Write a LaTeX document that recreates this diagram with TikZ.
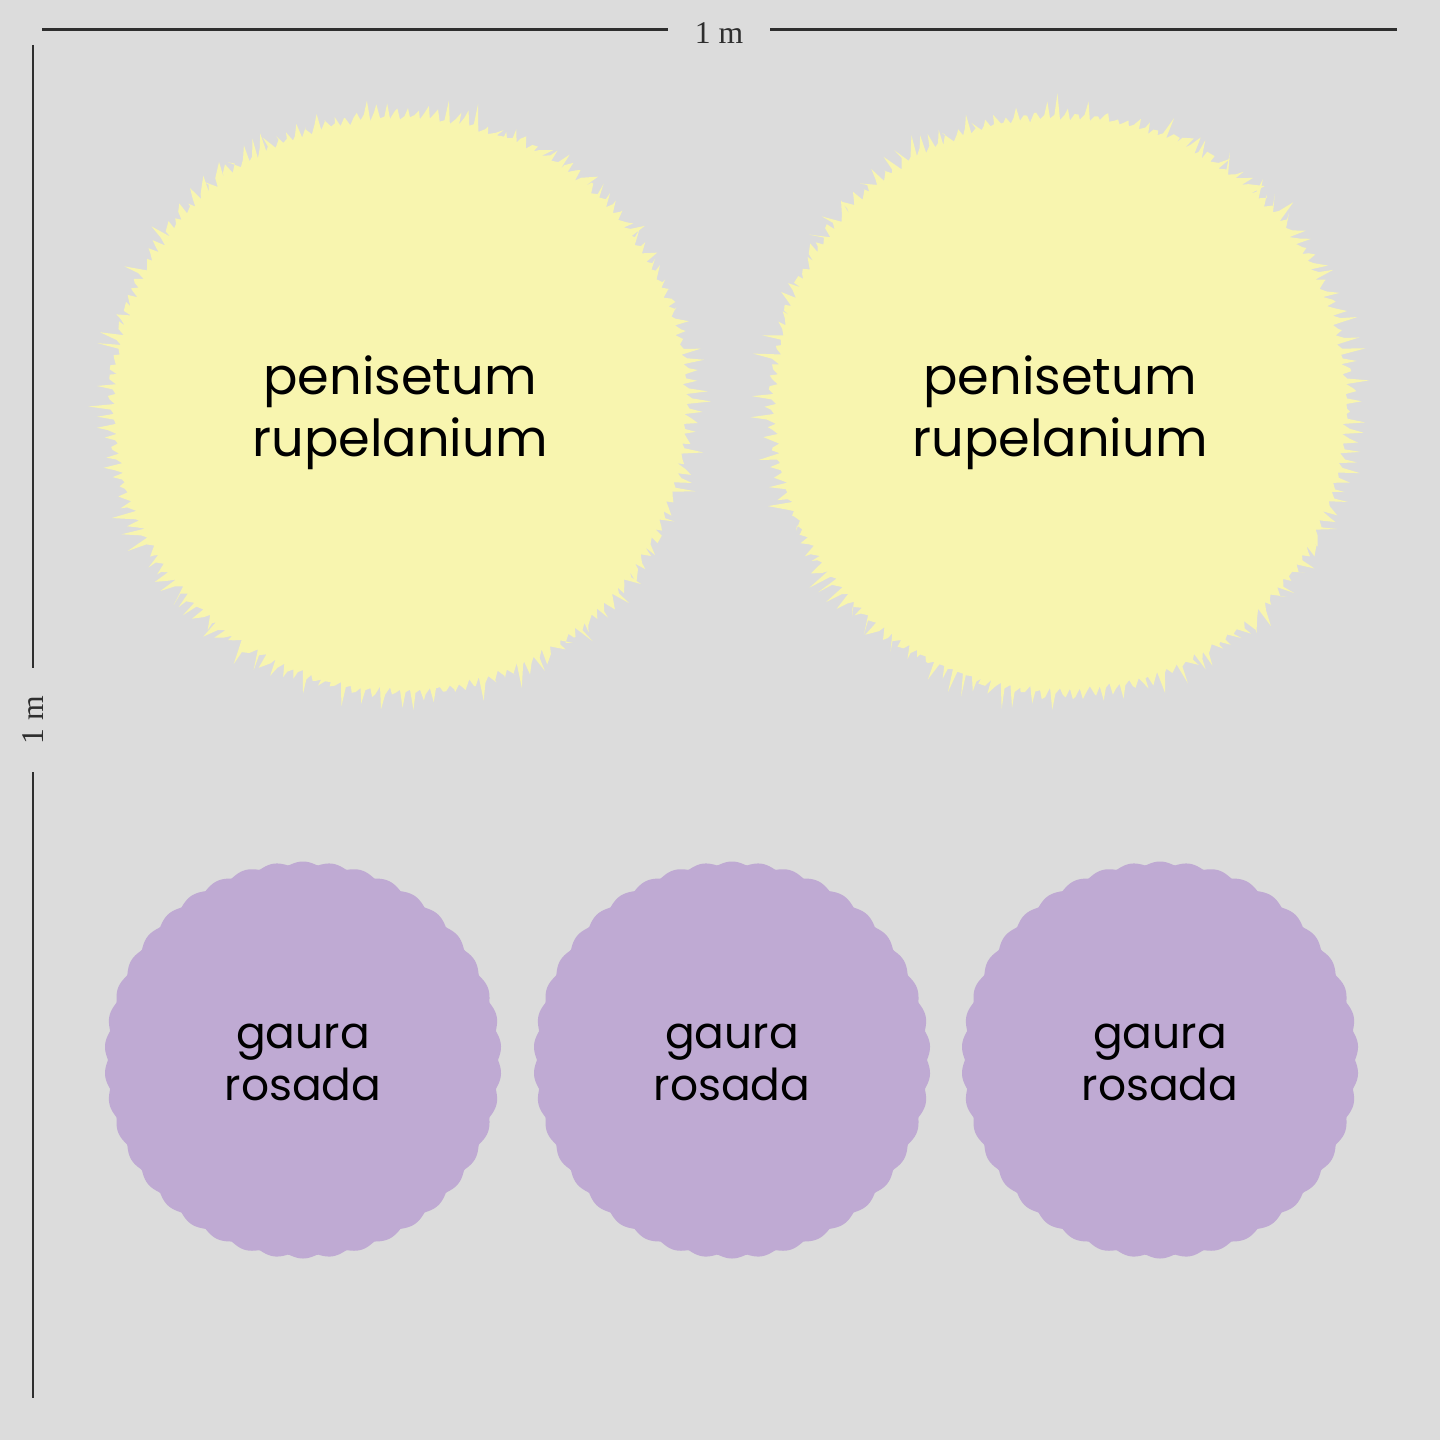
\documentclass[tikz,border=0pt]{standalone}
\usepackage{fontspec}
\setmainfont{Poppins}
\newfontfamily\dimfont{Liberation Serif}
\usetikzlibrary{positioning}
\definecolor{ground}{HTML}{DCDCDC}
\definecolor{grass}{HTML}{F8F5AF}
\definecolor{gaura}{HTML}{BFAAD3}
\definecolor{rule}{HTML}{2E2E2E}

\tikzset{
  dimline/.style={draw=rule, line width=0.85pt},
  dimlabel/.style={font=\dimfont\fontsize{9}{10}\selectfont, text=rule, inner sep=0pt},
  grasslabel/.style={align=center, font=\fontsize{14.5}{17.6}\selectfont, inner sep=0pt},
  gauralabel/.style={align=center, font=\fontsize{12.5}{14.8}\selectfont, inner sep=0pt}
}

\begin{document}
\begin{tikzpicture}[x=0.01cm,y=-0.01cm]
\fill[ground] (0,0) rectangle (1440,1440);
\pgfmathsetseed{23}

% dimension marks
\node[dimlabel] (widthlabel) at (719,33) {1 m};
\node[dimlabel, rotate=90] (heightlabel) at (33,720) {1 m};
\coordinate (topleft) at (42,30);
\coordinate (topright) at (1397,30);
\coordinate (lefttop) at (33,45);
\coordinate (leftbottom) at (33,1398);
\draw[dimline] (topleft) -- (668,30);
\draw[dimline] (770,30) -- (topright);
\draw[dimline] (lefttop) -- (33,668);
\draw[dimline] (33,772) -- (leftbottom);

% penisetum: spiky tufts
\foreach \cx in {400,1060}{
  \fill[grass, shift={(\cx,404)}] (0:286)
    \foreach \a in {0,2,...,358}{ -- (\a:{283+4*rnd}) -- (\a+0.9:{286+8*rnd}) -- (\a+1.5:{290+22*rnd^1.6}) } -- cycle;
}

% gaura: scalloped discs
\foreach \cx in {303,732,1160}{
  \fill[gaura, shift={(\cx,1060)}] plot[domain=0:360, samples=721] (\x:{195+3.5*abs(sin(21*\x))}) -- cycle;
}

% names
\node[grasslabel] (grassA) at (400,413) {penisetum\\rupelanium};
\node[grasslabel] (grassB) at (1060,413) {penisetum\\rupelanium};
\node[gauralabel] (gauraA) at (303,1062) {gaura\\rosada};
\node[gauralabel] (gauraB) at (732,1062) {gaura\\rosada};
\node[gauralabel] (gauraC) at (1160,1062) {gaura\\rosada};
\end{tikzpicture}
\end{document}
